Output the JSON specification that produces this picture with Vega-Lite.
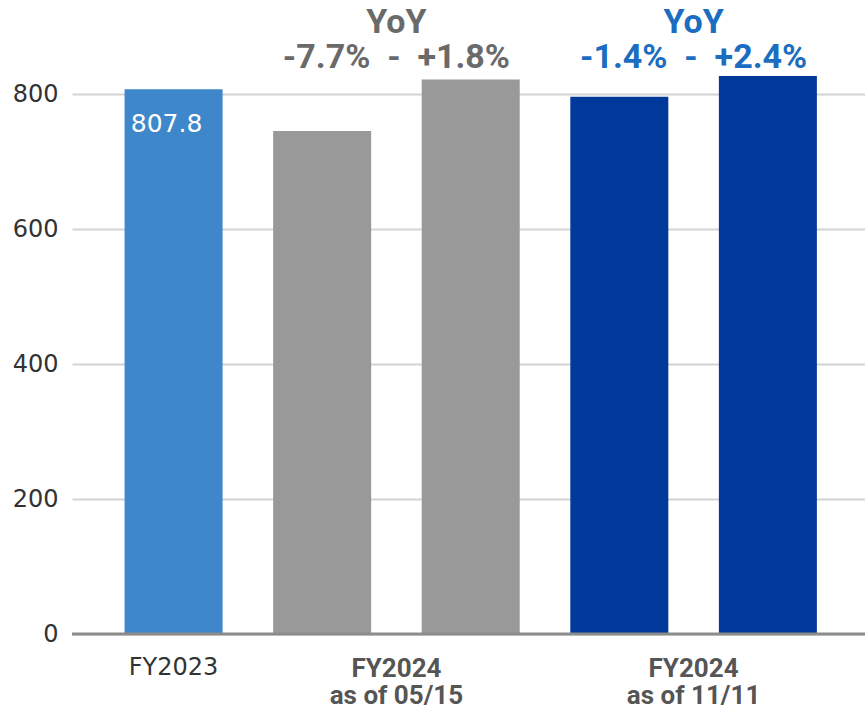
{
  "$schema": "https://vega.github.io/schema/vega-lite/v6.json",
  "width": 793,
  "height": 634,
  "autosize": {"type": "none"},
  "padding": {"left": 72, "top": 0, "right": 0, "bottom": 75},
  "background": "white",
  "config": {"view": {"stroke": null}, "font": "DejaVu Sans"},
  "datasets": {
    "bars": [
      {"pos": 1, "kind": "FY2023 actual", "value": 807.8},
      {"pos": 2, "kind": "FY2024 as of 05/15", "value": 745.6},
      {"pos": 3, "kind": "FY2024 as of 05/15", "value": 822.3},
      {"pos": 4, "kind": "FY2024 as of 11/11", "value": 796.5},
      {"pos": 5, "kind": "FY2024 as of 11/11", "value": 827.2}
    ],
    "cats": [
      {"pos": 1, "label": "FY2023"},
      {"pos": 2.5, "label": "FY2024\nas of 05/15"},
      {"pos": 4.5, "label": "FY2024\nas of 11/11"}
    ],
    "ann": [
      {"pos": 2.5, "kind": "FY2024 as of 05/15", "label": "YoY\n-7.7%\u00a0\u00a0-\u00a0\u00a0+1.8%"},
      {"pos": 4.5, "kind": "FY2024 as of 11/11", "label": "YoY\n-1.4%\u00a0\u00a0-\u00a0\u00a0+2.4%"}
    ]
  },
  "resolve": {"scale": {"color": "independent"}},
  "layer": [
    {
      "data": {"name": "bars"},
      "mark": {"type": "bar", "size": 98},
      "encoding": {
        "x": {"field": "pos", "type": "quantitative", "scale": {"domain": [0.35, 5.62], "nice": false, "zero": false}, "axis": null},
        "y": {"field": "value", "type": "quantitative", "scale": {"domain": [0, 940], "nice": false},
          "axis": {"values": [0, 200, 400, 600, 800], "title": null, "grid": true, "gridColor": "#d3d3d3", "gridWidth": 2, "ticks": false, "domain": false, "labelFontSize": 24, "labelColor": "#333333", "labelPadding": 14, "labelFont": "DejaVu Sans"}},
        "color": {"field": "kind", "type": "nominal", "legend": null,
          "scale": {"domain": ["FY2023 actual", "FY2024 as of 05/15", "FY2024 as of 11/11"], "range": ["#3F87CB", "#999999", "#01399A"]}}
      }
    },
    {
      "data": {"values": [{}]},
      "mark": {"type": "rule", "color": "#8c8c8c", "strokeWidth": 3},
      "encoding": {"y": {"datum": 0, "type": "quantitative"}}
    },
    {
      "data": {"name": "bars"},
      "transform": [{"filter": "datum.pos == 1"}],
      "mark": {"type": "text", "color": "white", "fontSize": 25, "font": "DejaVu Sans", "align": "center", "baseline": "alphabetic", "dy": 43, "dx": -7},
      "encoding": {
        "x": {"field": "pos", "type": "quantitative"},
        "y": {"field": "value", "type": "quantitative"},
        "text": {"field": "value", "type": "quantitative", "format": ".1f"}
      }
    },
    {
      "data": {"name": "cats"},
      "transform": [{"filter": "datum.pos == 1"}],
      "mark": {"type": "text", "color": "#333333", "fontSize": 24, "font": "DejaVu Sans", "align": "center", "baseline": "alphabetic", "dy": 41},
      "encoding": {
        "x": {"field": "pos", "type": "quantitative"},
        "y": {"datum": 0, "type": "quantitative"},
        "text": {"field": "label", "type": "nominal"}
      }
    },
    {
      "data": {"name": "cats"},
      "transform": [{"filter": "datum.pos != 1"}],
      "mark": {"type": "text", "color": "#555555", "fontSize": 26, "fontWeight": "bold", "font": "Roboto", "align": "center", "baseline": "alphabetic", "dy": 43, "lineBreak": "\n", "lineHeight": 27},
      "encoding": {
        "x": {"field": "pos", "type": "quantitative"},
        "y": {"datum": 0, "type": "quantitative"},
        "text": {"field": "label", "type": "nominal"}
      }
    },
    {
      "data": {"name": "ann"},
      "mark": {"type": "text", "fontSize": 34, "fontWeight": "bold", "font": "Roboto", "align": "center", "baseline": "alphabetic", "dy": 33, "lineBreak": "\n", "lineHeight": 35},
      "encoding": {
        "x": {"field": "pos", "type": "quantitative"},
        "y": {"datum": 940, "type": "quantitative"},
        "text": {"field": "label", "type": "nominal"},
        "color": {"field": "kind", "type": "nominal", "legend": null,
          "scale": {"domain": ["FY2024 as of 05/15", "FY2024 as of 11/11"], "range": ["#6A6A6A", "#1B6DC1"]}}
      }
    }
  ]
}
